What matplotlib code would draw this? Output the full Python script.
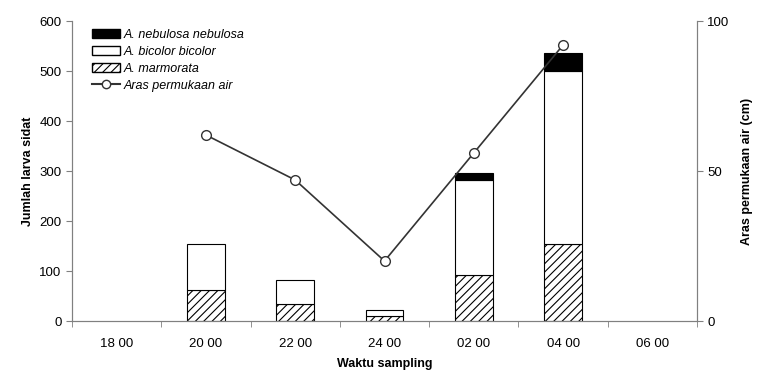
import numpy as np
import matplotlib.pyplot as plt
from matplotlib.lines import Line2D
from matplotlib.patches import Patch

plt.rcParams['font.family'] = ['Liberation Sans', 'DejaVu Sans']
plt.rcParams['hatch.linewidth'] = 0.8

# Data
times = ['18 00', '20 00', '22 00', '24 00', '02 00', '04 00', '06 00']
marmorata = [0, 62, 34, 10, 92, 154, 0]
bicolor = [0, 93, 48, 13, 190, 347, 0]
nebulosa = [0, 0, 0, 0, 14, 36, 0]
water_level = [np.nan, 62, 47, 20, 56, 92, np.nan]

x = np.arange(len(times))
marm = np.array(marmorata)
bic = np.array(bicolor)
neb = np.array(nebulosa)

fig = plt.figure(figsize=(7.58, 3.75), dpi=100)
ax = fig.add_axes([72/758, 1-321/375, (697-72)/758, 300/375])

w = 0.42
m = (marm + bic + neb) > 0  # skip empty sampling times
ax.bar(x[m], marm[m], w, color='white', edgecolor='black', hatch='////', linewidth=0.8)
ax.bar(x[m], bic[m], w, bottom=marm[m], color='white', edgecolor='black', linewidth=0.8)
n = neb > 0
ax.bar(x[n], neb[n], w, bottom=(marm + bic)[n], color='black', edgecolor='black', linewidth=0.8)

ax.set_xlim(-0.5, len(times) - 0.5)
ax.set_ylim(0, 600)
ax.set_yticks(range(0, 601, 100))
ax.set_xticks(x)
ax.set_xticklabels(times, fontsize=9.5)
ax.set_xticks(np.arange(-0.5, len(times)), minor=True)
ax.tick_params(axis='x', which='major', length=0, pad=12)
ax.tick_params(axis='x', which='minor', length=4, color='gray')
ax.tick_params(axis='y', labelsize=9.5, length=4, color='gray')
ax.set_xlabel('Waktu sampling', fontsize=9, fontweight='bold', labelpad=6)
ax.set_ylabel('Jumlah larva sidat', fontsize=9, fontweight='bold')
ax.spines['top'].set_visible(False)
for s in ['left', 'bottom', 'right']:
    ax.spines[s].set_color('gray')

ax2 = ax.twinx()
ax2.plot(x, water_level, color='#333333', linewidth=1.2, marker='o',
         markersize=7, markerfacecolor='white', markeredgecolor='#333333')
ax2.set_ylim(0, 100)
ax2.set_yticks([0, 50, 100])
ax2.tick_params(axis='y', labelsize=9.5, length=4, color='gray')
ax2.set_ylabel('Aras permukaan air (cm)', fontsize=9, fontweight='bold', labelpad=8)
ax2.spines['top'].set_visible(False)
for s in ['left', 'bottom', 'right']:
    ax2.spines[s].set_color('gray')

handles = [
    Patch(facecolor='black', edgecolor='black', label='A. nebulosa nebulosa'),
    Patch(facecolor='white', edgecolor='black', label='A. bicolor bicolor'),
    Patch(facecolor='white', edgecolor='black', hatch='////', label='A. marmorata'),
    Line2D([0], [0], color='#333333', marker='o', markerfacecolor='white',
           markersize=6, label='Aras permukaan air'),
]
leg = ax2.legend(handles=handles, loc='upper left', bbox_to_anchor=(0.02, 1.0),
                 frameon=False, fontsize=9, handlelength=2.2, handleheight=0.8,
                 labelspacing=0.4, borderaxespad=0.2, handletextpad=0.3)
for t in leg.get_texts():
    t.set_fontstyle('italic')

fig.savefig('out.png', dpi=100)
